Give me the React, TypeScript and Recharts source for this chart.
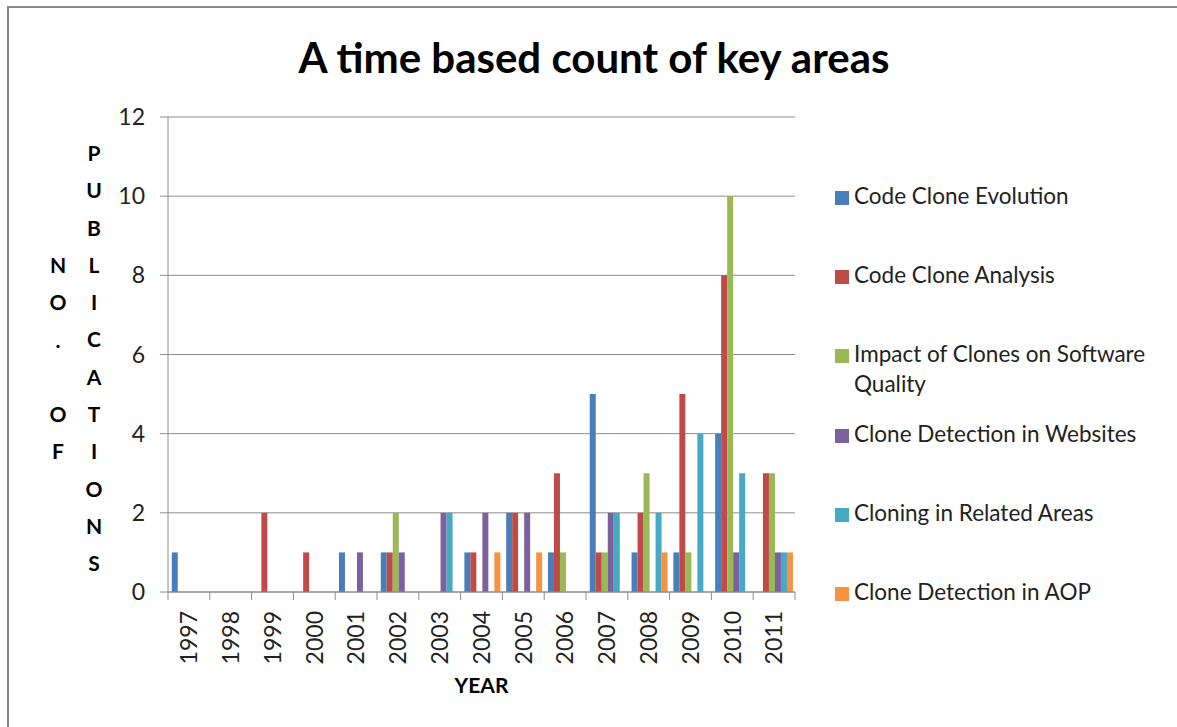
import { BarChart, Bar, XAxis, YAxis, CartesianGrid } from 'recharts'

const years = ['1997', '1998', '1999', '2000', '2001', '2002', '2003', '2004', '2005', '2006', '2007', '2008', '2009', '2010', '2011']

const codeCloneEvolution = [1, 0, 0, 0, 1, 1, 0, 1, 2, 1, 5, 1, 1, 4, 0]
const codeCloneAnalysis = [0, 0, 2, 1, 0, 1, 0, 1, 2, 3, 1, 2, 5, 8, 3]
const impactOnQuality = [0, 0, 0, 0, 0, 2, 0, 0, 0, 1, 1, 3, 1, 10, 3]
const detectionInWebsites = [0, 0, 0, 0, 1, 1, 2, 2, 2, 0, 2, 0, 0, 1, 1]
const relatedAreas = [0, 0, 0, 0, 0, 0, 2, 0, 0, 0, 2, 2, 4, 3, 1]
const detectionInAop = [0, 0, 0, 0, 0, 0, 0, 1, 1, 0, 0, 1, 0, 0, 1]

const yTicks = [0, 2, 4, 6, 8, 10, 12]

const series = [
  { key: 'cce', name: 'Code Clone Evolution', color: '#4A7EBB', values: codeCloneEvolution },
  { key: 'cca', name: 'Code Clone Analysis', color: '#BE4B48', values: codeCloneAnalysis },
  { key: 'icq', name: 'Impact of Clones on Software Quality', color: '#98B954', values: impactOnQuality },
  { key: 'cdw', name: 'Clone Detection in Websites', color: '#7D60A0', values: detectionInWebsites },
  { key: 'cra', name: 'Cloning in Related Areas', color: '#46AAC5', values: relatedAreas },
  { key: 'aop', name: 'Clone Detection in AOP', color: '#F69240', values: detectionInAop },
]

const data = years.map((year, i) => {
  const row: Record<string, string | number> = { year }
  series.forEach((s) => { row[s.key] = s.values[i] })
  return row
})

const FONT = 'Lato, "Open Sans", sans-serif'
const GRID = '#8c8c8c'

const PLOT_LEFT = 168
const PLOT_RIGHT = 795

const YearTick = (props: any) => {
  const { x, y, payload, index } = props
  const step = (PLOT_RIGHT - PLOT_LEFT) / years.length
  const left = x - step / 2
  return (
    <g>
      <line x1={left} x2={left} y1={y} y2={y + 8} stroke={GRID} />
      {index === years.length - 1 && <line x1={x + step / 2} x2={x + step / 2} y1={y} y2={y + 8} stroke={GRID} />}
      <text
        x={x}
        y={y + 19}
        dy="0.36em"
        textAnchor="end"
        transform={`rotate(-90, ${x}, ${y + 19})`}
        fontSize={23}
        fontFamily={FONT}
        fill="#222"
      >
        {payload.value}
      </text>
    </g>
  )
}

const yLabelLeft = ['N', 'O', '.', '', 'O', 'F']
const yLabelRight = ['P', 'U', 'B', 'L', 'I', 'C', 'A', 'T', 'I', 'O', 'N', 'S']

export default function App() {
  return (
    <div style={{ position: 'fixed', left: 0, top: 0, width: 1177, height: 727, background: '#fff', fontFamily: FONT, overflow: 'hidden' }}>
      <div style={{ position: 'absolute', left: 7, top: 6, width: 1300, height: 1000, borderLeft: '2px solid #8a8a8a', borderTop: '2px solid #8a8a8a' }} />

      <div style={{ position: 'absolute', left: 0, width: 1188, top: 32, textAlign: 'center', fontSize: 42, fontWeight: 700, color: '#000' }}>
        A time based count of key areas
      </div>

      <div style={{ position: 'absolute', left: 0, top: 0 }}>
        <BarChart
          width={1177}
          height={727}
          data={data}
          margin={{ top: 117, right: 1177 - PLOT_RIGHT, bottom: 55, left: 0 }}
          barCategoryGap="9%"
          barGap={0}
        >
          <CartesianGrid vertical={false} stroke={GRID} />
          <XAxis
            dataKey="year"
            height={80}
            axisLine={{ stroke: GRID }}
            tickLine={false}
            tickSize={0}
            tickMargin={0}
            interval={0}
            tick={<YearTick />}
          />
          <YAxis
            width={PLOT_LEFT}
            domain={[0, 12]}
            ticks={yTicks}
            axisLine={{ stroke: GRID }}
            tickLine={{ stroke: GRID }}
            tickSize={8}
            tickMargin={15}
            tick={{ fontSize: 23, fontFamily: FONT, fill: '#222' }}
          />
          {series.map((s) => (
            <Bar key={s.key} dataKey={s.key} name={s.name} fill={s.color} isAnimationActive={false} />
          ))}
        </BarChart>
      </div>

      <div style={{ position: 'absolute', left: 0, width: 963, top: 672, textAlign: 'center', fontSize: 21, fontWeight: 700, color: '#000' }}>
        YEAR
      </div>

      <div style={{ position: 'absolute', left: 38, width: 40, top: 246, textAlign: 'center', fontSize: 21, fontWeight: 700, lineHeight: '37.3px' }}>
        {yLabelLeft.map((c, i) => <div key={i} style={{ height: 37.3 }}>{c}</div>)}
      </div>
      <div style={{ position: 'absolute', left: 74, width: 40, top: 134, textAlign: 'center', fontSize: 21, fontWeight: 700, lineHeight: '37.3px' }}>
        {yLabelRight.map((c, i) => <div key={i} style={{ height: 37.3 }}>{c}</div>)}
      </div>

      <div style={{ position: 'absolute', left: 835, top: 181, width: 340 }}>
        {series.map((s) => (
          <div key={s.key} style={{ display: 'flex', alignItems: 'flex-start', minHeight: 79.2, fontSize: 22.5, color: '#222', lineHeight: '30px' }}>
            <span style={{ display: 'inline-block', width: 14, height: 14, background: s.color, marginTop: 10, marginRight: 5, flexShrink: 0 }} />
            <span style={{ width: 320 }}>{s.name}</span>
          </div>
        ))}
      </div>
    </div>
  )
}
